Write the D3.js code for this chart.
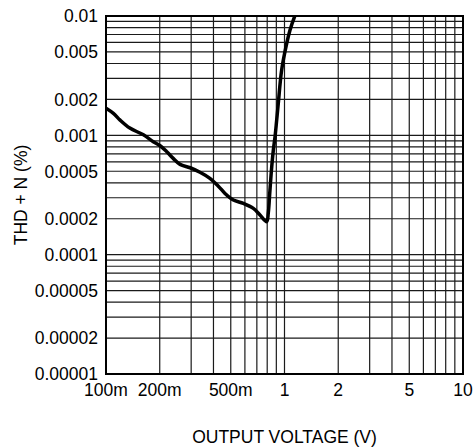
<!DOCTYPE html>
<html>
<head>
<meta charset="utf-8">
<script src="https://cdn.jsdelivr.net/npm/d3@7"></script>
<style>
  body { margin: 0; background: #fff; }
  text { font-family: "Liberation Sans", Arial, sans-serif; fill: #000; }
</style>
</head>
<body>
<svg id="chart"></svg>
<script>
// THD+N vs output voltage
const voltage = [0.1, 0.110, 0.120, 0.136, 0.162, 0.184, 0.201, 0.219, 0.238, 0.260,
  0.296, 0.336, 0.382, 0.426, 0.464, 0.517, 0.588, 0.669, 0.729, 0.795,
  0.811, 0.829, 0.848, 0.866, 0.885, 0.904, 0.923, 0.964, 1.029, 1.074, 1.135, 1.15];
const thdn = [0.00169, 0.00153, 0.00134, 0.00115, 0.00101, 0.000884, 0.000818, 0.000729, 0.000641, 0.000571,
  0.000535, 0.000490, 0.000436, 0.000375, 0.000326, 0.000287, 0.000269, 0.000244, 0.000215, 0.000189,
  0.000222, 0.000348, 0.000545, 0.000753, 0.000973, 0.00134, 0.00185, 0.00353, 0.0059, 0.00763, 0.00975, 0.0102];

const xTicks = [0.1, 0.2, 0.5, 1, 2, 5, 10];
const xTickLabels = ["100m", "200m", "500m", "1", "2", "5", "10"];
const yTicks = [0.01, 0.005, 0.002, 0.001, 0.0005, 0.0002, 0.0001, 0.00005, 0.00002, 0.00001];
const yTickLabels = ["0.01", "0.005", "0.002", "0.001", "0.0005", "0.0002", "0.0001", "0.00005", "0.00002", "0.00001"];

const width = 476, height = 448;
const margin = { top: 16, right: 13, bottom: 74, left: 106 };

const svg = d3.select("#chart")
  .attr("width", width)
  .attr("height", height);

const x = d3.scaleLog()
  .domain([0.1, 10])
  .range([margin.left, width - margin.right]);

const y = d3.scaleLog()
  .domain([0.00001, 0.01])
  .range([height - margin.bottom, margin.top]);

// grid lines at 1..9 of every decade
const xGrid = [];
for (let d of [0.1, 1]) for (let k = 1; k <= 9; k++) xGrid.push(d * k);
const yGrid = [];
for (let d of [0.00001, 0.0001, 0.001]) for (let k = 1; k <= 9; k++) yGrid.push(d * k);

svg.append("g")
  .selectAll("line")
  .data(xGrid)
  .enter()
  .append("line")
  .attr("x1", d => x(d))
  .attr("x2", d => x(d))
  .attr("y1", y(0.01))
  .attr("y2", y(0.00001))
  .attr("stroke", "#1a1a1a")
  .attr("stroke-width", 1.2);

svg.append("g")
  .selectAll("line")
  .data(yGrid)
  .enter()
  .append("line")
  .attr("x1", x(0.1))
  .attr("x2", x(10))
  .attr("y1", d => y(d))
  .attr("y2", d => y(d))
  .attr("stroke", "#1a1a1a")
  .attr("stroke-width", 1.2);

// frame
svg.append("rect")
  .attr("x", x(0.1))
  .attr("y", y(0.01))
  .attr("width", x(10) - x(0.1))
  .attr("height", y(0.00001) - y(0.01))
  .attr("fill", "none")
  .attr("stroke", "#000")
  .attr("stroke-width", 2);

// curve, clipped to plot area
svg.append("clipPath")
  .attr("id", "clip")
  .append("rect")
  .attr("x", x(0.1))
  .attr("y", y(0.01))
  .attr("width", x(10) - x(0.1))
  .attr("height", y(0.00001) - y(0.01));

const line = d3.line()
  .x((d, i) => x(voltage[i]))
  .y(d => y(d))
  .curve(d3.curveCatmullRom);

svg.append("path")
  .datum(thdn)
  .attr("clip-path", "url(#clip)")
  .attr("d", line)
  .attr("fill", "none")
  .attr("stroke", "#000")
  .attr("stroke-width", 3.5)
  .attr("stroke-linejoin", "round");

// tick labels
svg.append("g")
  .selectAll("text")
  .data(xTicks)
  .enter()
  .append("text")
  .attr("x", d => x(d))
  .attr("y", 396)
  .attr("text-anchor", "middle")
  .style("font-size", "17.5px")
  .text((d, i) => xTickLabels[i]);

svg.append("g")
  .selectAll("text")
  .data(yTicks)
  .enter()
  .append("text")
  .attr("x", 98)
  .attr("y", d => y(d))
  .attr("dy", "0.36em")
  .attr("text-anchor", "end")
  .style("font-size", "17.5px")
  .text((d, i) => yTickLabels[i]);

// axis titles
svg.append("text")
  .attr("x", x(1))
  .attr("y", 443)
  .attr("text-anchor", "middle")
  .style("font-size", "17.5px")
  .text("OUTPUT VOLTAGE (V)");

svg.append("text")
  .attr("transform", `translate(27, ${(y(0.01) + y(0.00001)) / 2}) rotate(-90)`)
  .attr("text-anchor", "middle")
  .style("font-size", "17.5px")
  .text("THD + N (%)");
</script>
</body>
</html>
